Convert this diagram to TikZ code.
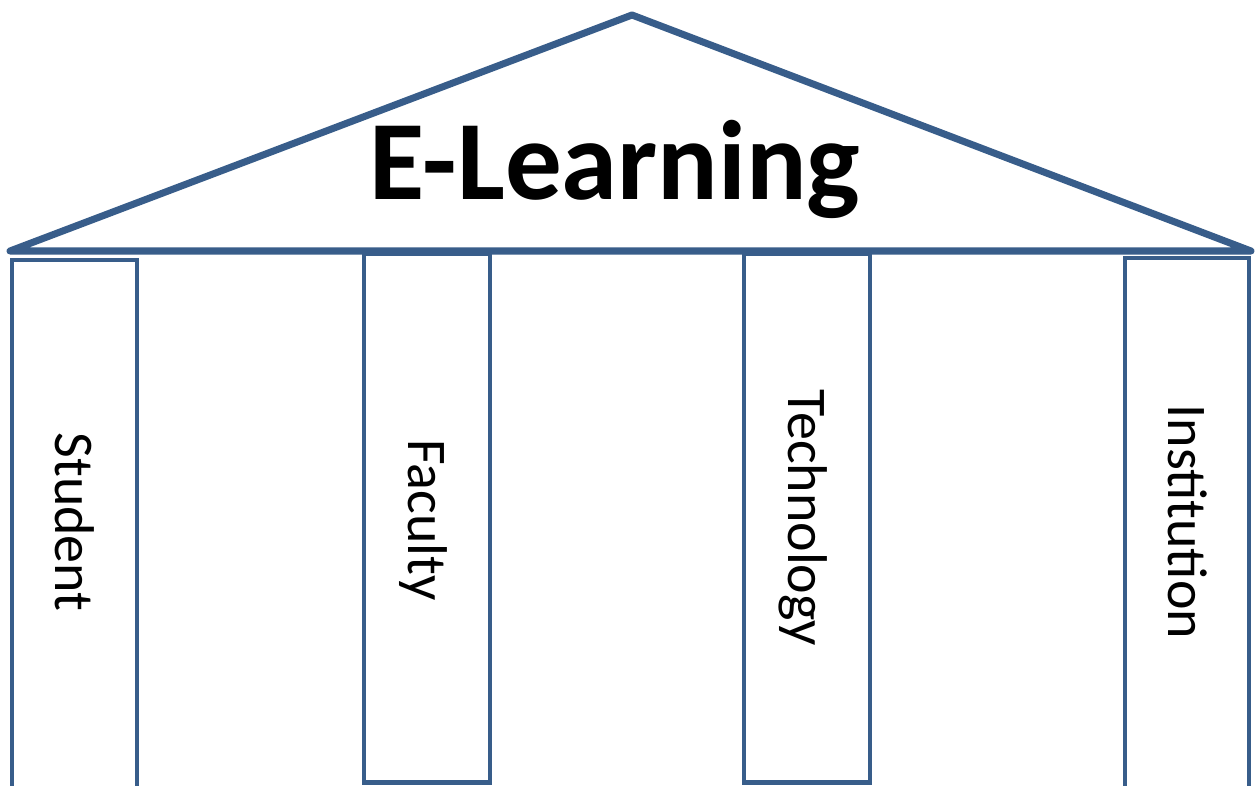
\documentclass[tikz,border=0pt]{standalone}
\usepackage{fontspec}
\setmainfont{Carlito}
\definecolor{pillarblue}{HTML}{385D8A}
\begin{document}
\begin{tikzpicture}[x=1pt,y=-1pt,
  roofline/.style={draw=pillarblue,line width=7pt,line join=round,line cap=round},
  pillar/.style={draw=pillarblue,line width=4.5pt,fill=white},
  pillarlabel/.style={font=\fontsize{56}{60}\selectfont,rotate=-90,anchor=base,inner sep=0pt},
  titletext/.style={font=\fontsize{113}{120}\selectfont\bfseries,anchor=base,inner sep=0pt}]
  \clip (0,0) rectangle (1257,786);
  \fill[white] (0,0) rectangle (1257,786);

  % pillars
  \draw[pillar] (12,260) rectangle (137,800);
  \draw[pillar] (364,254) rectangle (490,782.5);
  \draw[pillar] (744,254) rectangle (870,782.5);
  \draw[pillar] (1125,258) rectangle (1249,800);

  % roof
  \coordinate (eaveL) at (10,251);
  \coordinate (apex) at (632,15);
  \coordinate (eaveR) at (1251,251);
  \draw[roofline] (eaveL) -- (apex) -- (eaveR) -- cycle;

  % texts
  \node[titletext] (title) at (615,200) {E-Learning};
  \node[pillarlabel] (student) at (55,522) {Student};
  \node[pillarlabel] (faculty) at (408,520) {Faculty};
  \node[pillarlabel] (technology) at (788,518) {Technology};
  \node[pillarlabel] (institution) at (1168,522) {Institution};
\end{tikzpicture}
\end{document}
